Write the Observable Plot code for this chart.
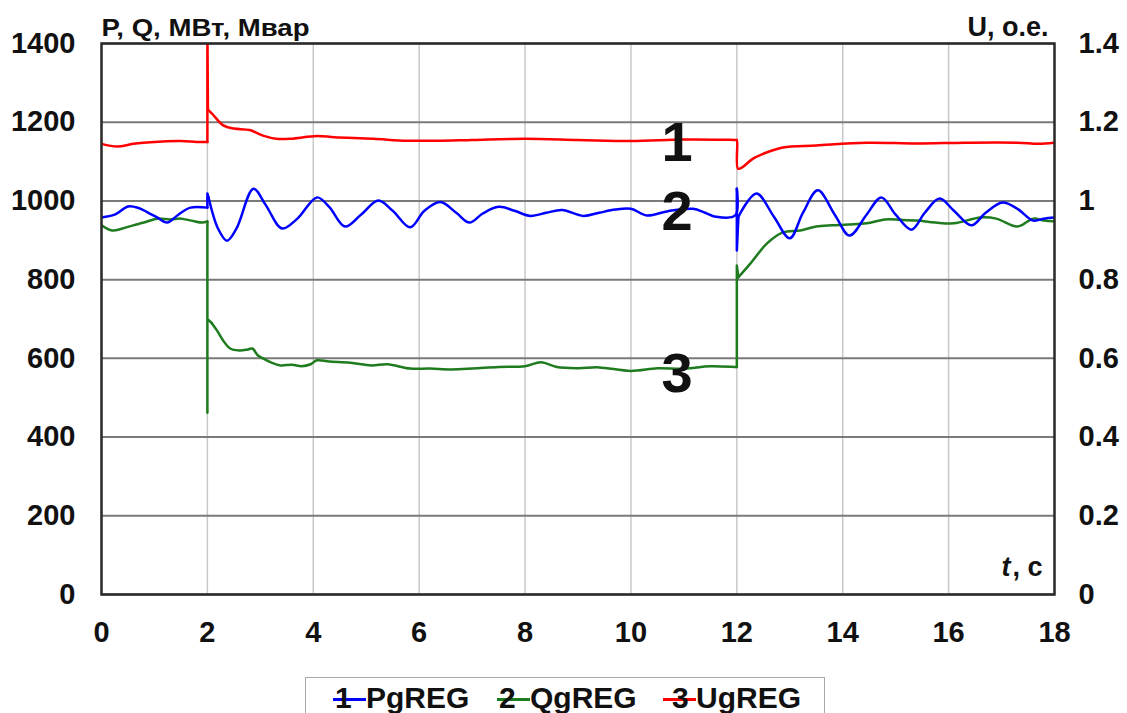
<!DOCTYPE html>
<html><head><meta charset="utf-8">
<script src="https://cdn.jsdelivr.net/npm/d3@7"></script>
<script src="https://cdn.jsdelivr.net/npm/@observablehq/plot@0.6"></script>
<style>
body{margin:0;background:#fff;font-family:"Liberation Sans",Arial,sans-serif;}
#wrap{position:relative;width:1127px;height:713px;overflow:hidden;background:#fff;}
#legend{position:absolute;left:305px;top:677px;width:520px;height:60px;border:1.5px solid #a8a8a8;box-sizing:border-box;}
.item{position:absolute;top:3px;font-weight:bold;font-size:30px;line-height:34px;white-space:nowrap;color:#111;}
.sw{position:relative;display:inline-block;width:33px;height:34px;vertical-align:top;}
.sw .ln{position:absolute;left:0;right:0;top:17px;height:3px;}
.sw .num{position:absolute;top:0;}
</style>
</head><body>
<div id="wrap"><div id="chart"></div>
<div id="legend"></div></div>
<script>
// ---- data ----
const seriesNames = ["PgREG", "QgREG", "UgREG"];
const seriesColors = ["#0000ff", "#1e7b1e", "#ff0000"];
const xTicks = [0, 2, 4, 6, 8, 10, 12, 14, 16, 18];
const yTicks = [0, 200, 400, 600, 800, 1000, 1200, 1400];

// PgREG, MW
const tP = [0,0.25,0.5,0.7,0.87,1.05,1.24,1.45,1.68,2.0,2.0,2.02,2.2,2.37,2.55,2.87,3.1,3.41,3.7,4.07,4.3,4.6,4.9,5.23,5.5,5.83,6.1,6.4,6.7,6.95,7.2,7.5,7.8,8.1,8.4,8.7,9.1,9.4,9.7,10.0,10.3,10.7,11.17,11.4,11.6,11.97,12.0,12.0,12.03,12.37,12.7,13.0,13.25,13.53,13.85,14.13,14.45,14.73,15.0,15.3,15.55,15.83,16.1,16.43,16.7,17.02,17.3,17.6,17.8,18.0];
const vP = [958,965,986,982,971,958,945,965,983,983,1019,1010,930,899,930,1031,990,930,955,1009,985,935,965,1001,975,933,975,997,970,945,968,985,975,962,970,977,962,970,978,980,963,974,980,970,960,963,1031,874,960,1019,960,905,970,1027,965,912,965,1009,965,927,970,1006,975,938,970,996,980,950,955,958];

// QgREG, Mvar
const tQ = [0,0.2,0.4,0.6,0.8,1.05,1.3,1.5,1.7,1.9,2.0,2.0,2.0,2.08,2.18,2.3,2.43,2.6,2.75,2.85,2.95,3.05,3.2,3.38,3.6,3.78,3.95,4.07,4.3,4.7,5.1,5.4,5.83,6.2,6.6,7.0,7.5,8.0,8.3,8.6,9.0,9.4,10.0,10.5,11.0,11.5,11.98,12.0,12.0,12.03,12.25,12.57,12.87,13.2,13.5,13.8,14.1,14.45,14.8,15.1,15.4,15.75,16.1,16.6,16.9,17.3,17.6,17.8,18.0];
const vQ = [938,925,930,938,945,955,953,955,950,945,948,462,700,690,671,645,625,620,622,625,608,600,590,582,584,580,585,595,592,589,582,585,574,574,572,574,578,580,590,578,575,577,568,575,574,580,578,578,836,806,840,892,920,925,935,938,940,943,953,952,950,945,943,958,955,935,955,950,948];

// UgREG, p.u.
const tU = [0,0.3,0.6,1.0,1.5,1.8,2.0,2.0,2.01,2.1,2.3,2.5,2.8,3.05,3.3,3.57,4.07,4.4,5.13,5.77,6.33,7.0,8.0,9.0,10.0,11.0,11.98,12.0,12.02,12.1,12.3,12.56,12.87,13.5,14.45,15.4,16.3,17.3,17.7,18.0];
const vU = [1.145,1.138,1.145,1.150,1.152,1.150,1.150,1.45,1.232,1.22,1.192,1.184,1.180,1.166,1.158,1.158,1.165,1.162,1.158,1.153,1.153,1.155,1.158,1.155,1.152,1.156,1.155,1.155,1.082,1.085,1.107,1.123,1.136,1.141,1.148,1.146,1.148,1.148,1.145,1.148];

// curve number labels
const labelText = ["1", "2", "3"];
const labelT = [10.87, 10.87, 10.87];
const labelV = [1146, 971, 561];

// ---- build: split each series into smooth pieces and linear jump pieces ----
function split(t, v, k) {
  const smooth = [], jumps = [];
  let seg = 0, jseg = 0, i = 0;
  while (i < t.length) {
    smooth.push({t: t[i], v: v[i] * k, z: seg});
    // detect a run of equal times starting at i
    let b = i;
    while (b + 1 < t.length && t[b + 1] === t[i]) b++;
    if (b > i) {
      for (let j = i; j <= Math.min(b + 1, t.length - 1); j++) jumps.push({t: t[j], v: v[j] * k, z: jseg});
      jseg++; seg++;
      i = b + 1;
      if (i < t.length) { /* next smooth segment starts at b+1 */ }
      continue;
    }
    i++;
  }
  return {smooth, jumps};
}
const P = split(tP, vP, 1), Q = split(tQ, vQ, 1), U = split(tU, vU, 1000);
const labels = labelText.map((s, i) => ({s, t: labelT[i], v: labelV[i]}));
const lineMarks = (S, color) => [
  Plot.line(S.smooth, {x: "t", y: "v", z: "z", stroke: color, strokeWidth: 2.5, clip: true, curve: "catmull-rom"}),
  Plot.line(S.jumps, {x: "t", y: "v", z: "z", stroke: color, strokeWidth: 2.5, clip: true})
];

const chart = Plot.plot({
  width: 1127, height: 660,
  marginTop: 43, marginBottom: 66, marginLeft: 101, marginRight: 73,
  style: {fontFamily: "'Liberation Sans', Arial, sans-serif", fontWeight: "bold", fontSize: "29px", color: "#111", background: "#fff"},
  x: {domain: [0, 18]},
  y: {domain: [0, 1400]},
  marks: [
    Plot.gridX(xTicks, {stroke: "#c8c8c8", strokeOpacity: 1, strokeWidth: 1.5}),
    Plot.gridY(yTicks, {stroke: "#7a7a7a", strokeOpacity: 1, strokeWidth: 2}),
    ...lineMarks(U, seriesColors[2]),
    ...lineMarks(Q, seriesColors[1]),
    ...lineMarks(P, seriesColors[0]),
    Plot.frame({stroke: "#2a2a2a", strokeWidth: 2.5}),
    Plot.axisX(xTicks, {tickSize: 0, tickPadding: 27, label: null, fontSize: 29}),
    Plot.axisY(yTicks, {anchor: "left", tickSize: 0, tickPadding: 26, label: null, fontSize: 29, tickFormat: d => String(d)}),
    Plot.axisY(yTicks, {anchor: "right", tickSize: 0, tickPadding: 24, label: null, fontSize: 29, tickFormat: d => String(d / 1000)}),
    Plot.text(labels, {x: "t", y: "v", text: "s", fontSize: 56, fontWeight: "bold", fill: "#111"}),
    Plot.text(["P, Q, МВт, Мвар"], {frameAnchor: "top-left", textAnchor: "start", lineAnchor: "bottom", dy: -8, fontSize: 24, fill: "#111"}),
    Plot.text(["U, o.e."], {frameAnchor: "top-right", textAnchor: "end", lineAnchor: "bottom", dx: -6, dy: -8, fontSize: 27, fill: "#111"}),
    Plot.text([", c"], {frameAnchor: "bottom-right", textAnchor: "end", lineAnchor: "bottom", dx: -12, dy: -19, fontSize: 27, fill: "#111"}),
    Plot.text(["t"], {frameAnchor: "bottom-right", textAnchor: "end", lineAnchor: "bottom", dx: -44, dy: -19, fontSize: 27, fontStyle: "italic", fill: "#111"})
  ]
});
d3.select(chart).selectAll("text").filter(function () { return this.textContent === "P, Q, МВт, Мвар"; })
  .attr("textLength", 208).attr("lengthAdjust", "spacingAndGlyphs");
document.getElementById("chart").appendChild(chart);

// legend
const legendLeft = [27, 191, 357];
const numPad = [2, 2, 9];
const legend = d3.select("#legend");
seriesNames.forEach((name, i) => {
  const it = legend.append("div").attr("class", "item").style("left", legendLeft[i] + "px");
  const sw = it.append("span").attr("class", "sw");
  sw.append("span").attr("class", "ln").style("background", seriesColors[i]);
  sw.append("span").attr("class", "num").style("left", numPad[i] + "px").text(String(i + 1));
  it.append("span").text(name);
});
</script>
</body></html>
